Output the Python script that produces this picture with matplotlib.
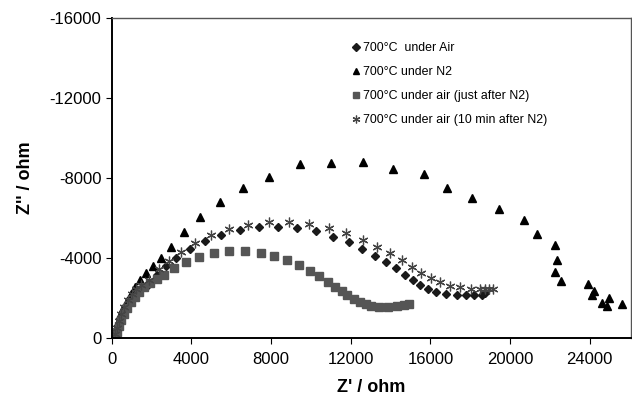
import numpy as np
import matplotlib
matplotlib.use('Agg')
import matplotlib.pyplot as plt

plt.rcParams['font.family'] = ['Liberation Sans', 'DejaVu Sans']
plt.rcParams['axes.unicode_minus'] = False

# 700°C under Air (diamonds)
air_x = [200, 280, 400, 540, 700, 880, 1080, 1300, 1744, 2246, 2714, 3241, 3930, 4658, 5492,
         6417, 7377, 8367, 9286, 10236, 11106, 11894, 12588, 13216, 13779, 14281, 14709,
         15111, 15487, 15869, 16266, 16774, 17327, 17764, 18166, 18608, 18744]
air_y = [-100, -400, -750, -1100, -1450, -1780, -2080, -2350, -2584, -3174, -3592, -4020, -4433,
         -4826, -5154, -5401, -5526, -5557, -5476, -5330, -5073, -4786, -4469, -4116, -3794,
         -3476, -3164, -2897, -2645, -2453, -2317, -2202, -2166, -2131, -2131, -2166, -2242]

# 700°C under N2 (triangles)
n2_x = [170, 230, 320, 430, 570, 740, 940, 1170, 1420, 1700, 2050, 2447, 2950, 3618, 4422,
        5427, 6568, 7905, 9457, 10990, 12598, 14131, 15663, 16849, 18106, 19462, 20719,
        21372, 22236, 22377, 22236, 22578, 23930, 24196, 24131, 24975, 24598, 24849, 25628]
n2_y = [-150, -450, -800, -1150, -1500, -1850, -2200, -2550, -2900, -3250, -3600, -3980, -4559,
        -5305, -6030, -6801, -7481, -8071, -8690, -8756, -8791, -8453, -8202, -7481, -6977,
        -6448, -5909, -5189, -4635, -3919, -3315, -2872, -2710, -2343, -2131, -1980, -1728,
        -1587, -1688]

# 700°C under air (just after N2) (squares)
sq_x = [200, 260, 360, 480, 620, 780, 960, 1150, 1380, 1620, 1900, 2250, 2638, 3131, 3744,
        4397, 5151, 5905, 6709, 7477, 8166, 8809, 9422, 9975, 10402, 10839, 11231, 11543,
        11834, 12161, 12462, 12749, 13040, 13432, 13854, 14307, 14673, 14940]
sq_y = [-60, -300, -600, -900, -1200, -1500, -1800, -2050, -2300, -2550, -2750, -2950, -3159,
        -3501, -3814, -4055, -4272, -4358, -4358, -4267, -4121, -3914, -3662, -3365, -3113,
        -2811, -2559, -2353, -2151, -1950, -1788, -1678, -1597, -1572, -1572, -1612, -1647,
        -1698]

# 700°C under air (10 min after N2) (asterisks)
st_x = [180, 250, 350, 470, 620, 800, 1000, 1200, 1450, 1859, 2362, 2864, 3492, 4196, 4990,
        5879, 6849, 7879, 8910, 9925, 10889, 11774, 12613, 13332, 13980, 14583, 15085, 15553,
        16040, 16508, 16995, 17497, 18055, 18482, 18759, 18960, 19131]
st_y = [-200, -500, -850, -1200, -1550, -1900, -2200, -2450, -2650, -2922, -3461, -3864, -4307,
        -4761, -5139, -5426, -5657, -5778, -5778, -5708, -5491, -5264, -4922, -4549, -4232,
        -3894, -3542, -3249, -2987, -2786, -2620, -2544, -2453, -2453, -2453, -2453, -2453]

fig = plt.figure(figsize=(6.32, 3.96), dpi=100)
ax = fig.add_axes([0.177, 0.1465, 0.8215, 0.808])

ax.plot(air_x, air_y, 'D', color='#1a1a1a', ms=4.5, ls='none', label='700°C  under Air')
ax.plot(n2_x, n2_y, '^', color='black', ms=6, ls='none', label='700°C under N2')
ax.plot(sq_x, sq_y, 's', color='#555555', ms=5.5, ls='none', label='700°C under air (just after N2)')
ax.plot(st_x, st_y, marker=(6, 2, 0), color='#444444', ms=7, mew=0.9, ls='none',
        label='700°C under air (10 min after N2)')

ax.set_xlim(0, 26080)
ax.set_ylim(0, -16000)
ax.set_xticks(np.arange(0, 24001, 4000))
ax.set_yticks(np.arange(0, -16001, -4000))
ax.tick_params(axis='both', direction='out', length=4, labelsize=12, top=False, right=False)
ax.tick_params(axis='x', pad=6)

for s in ['left', 'bottom']:
    ax.spines[s].set_color('black')
    ax.spines[s].set_linewidth(1.4)
for s in ['top', 'right']:
    ax.spines[s].set_color('#555555')
    ax.spines[s].set_linewidth(1.0)

ax.set_xlabel("Z' / ohm", fontsize=13, fontweight='bold', labelpad=9)
ax.set_ylabel("Z'' / ohm", fontsize=13, fontweight='bold', labelpad=11)

ax.legend(loc='upper left', bbox_to_anchor=(0.455, 0.94), frameon=False, fontsize=8.9,
          handlelength=0.5, handletextpad=0.3, labelspacing=0.97, borderaxespad=0,
          markerscale=0.8)

fig.savefig('out.png', dpi=100)
